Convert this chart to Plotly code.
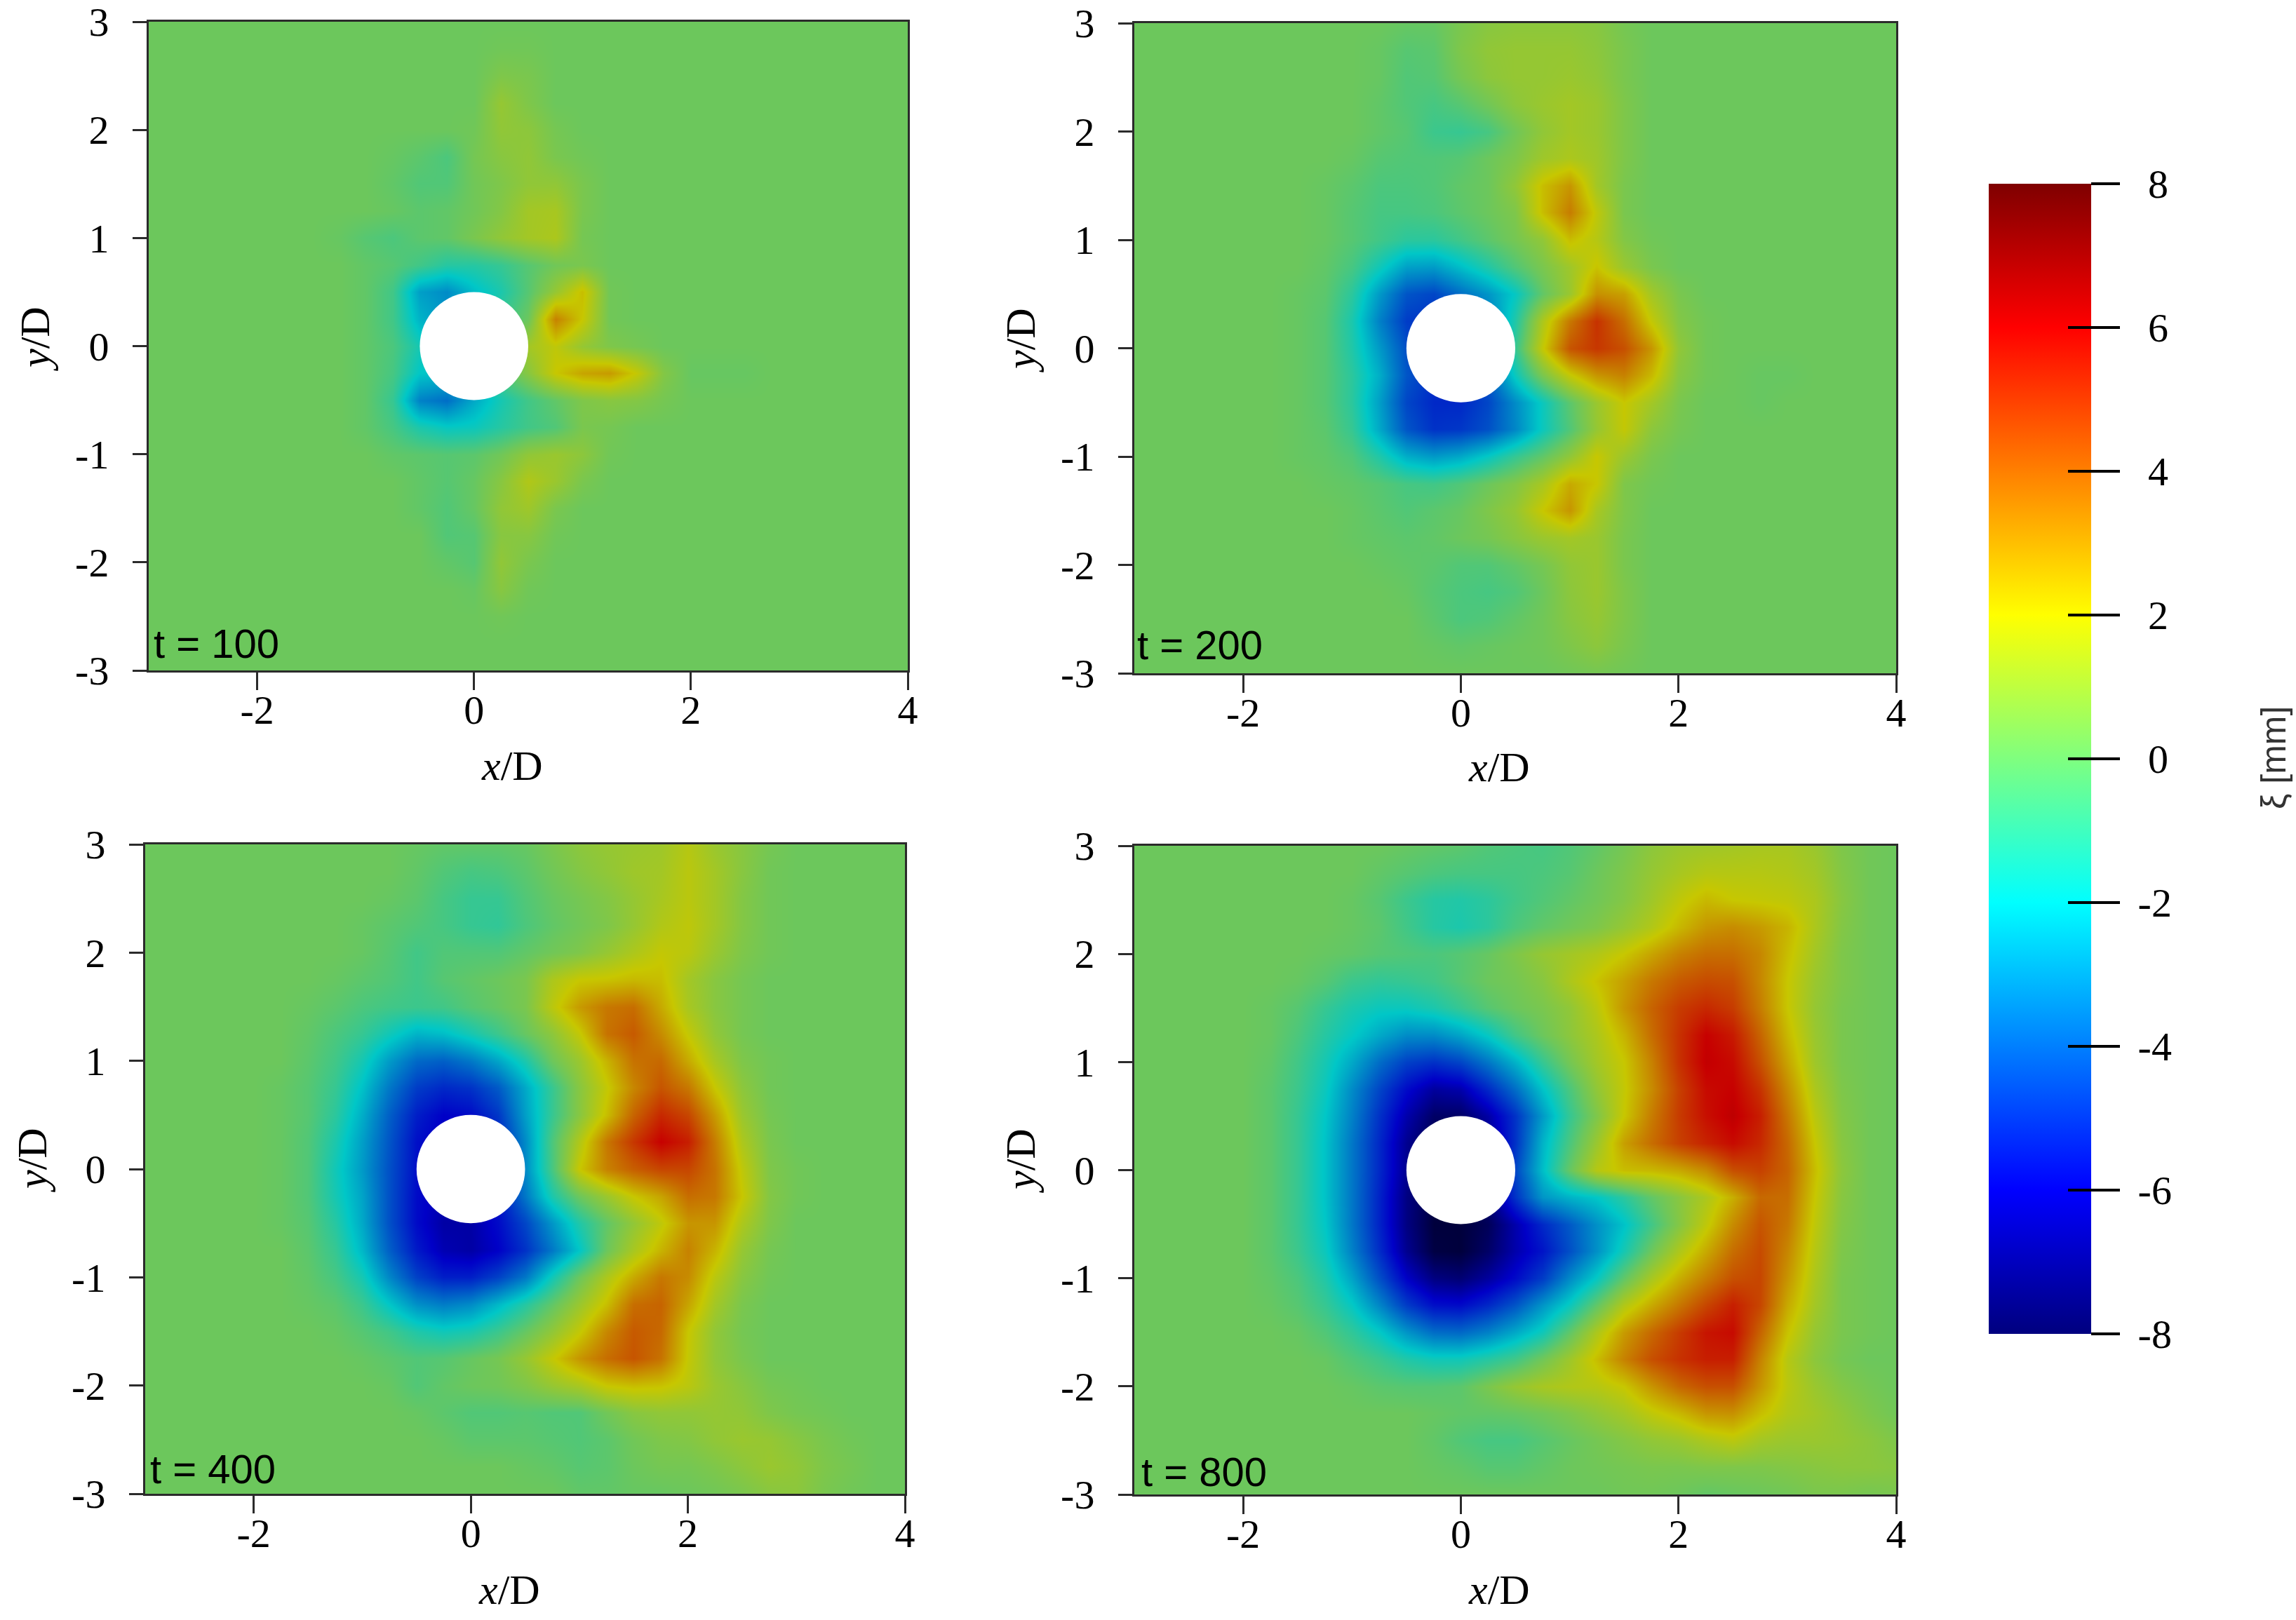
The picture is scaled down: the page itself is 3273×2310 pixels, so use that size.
import plotly.graph_objects as go

W, H = 3273, 2310

x_grid = [-3, -2.75, -2.5, -2.25, -2, -1.75, -1.5, -1.25, -1, -.75, -.5, -.25, 0, .25, .5, .75, 1,
          1.25, 1.5, 1.75, 2, 2.25, 2.5, 2.75, 3, 3.25, 3.5, 3.75, 4]
# rows run from y = 3 down to y = -3
y_grid = [3, 2.75, 2.5, 2.25, 2, 1.75, 1.5, 1.25, 1, .75, .5, .25, 0, -.25, -.5, -.75, -1,
          -1.25, -1.5, -1.75, -2, -2.25, -2.5, -2.75, -3]

z_t100 = [
    [0,0,0,0,0,0,0,0,0,0,0,0,0,0,0,0,0,0,0,0,0,0,0,0,0,0,0,0,0],
    [0,0,0,0,0,0,0,0,0,0,0,0,0,.1,.1,0,0,0,0,0,0,0,0,0,0,0,0,0,0],
    [0,0,0,0,0,0,0,0,0,0,0,0,0,.4,.3,0,0,0,0,0,0,0,0,0,0,0,0,0,0],
    [0,0,0,0,0,0,0,0,0,0,0,0,0,.9,.4,0,0,0,0,0,0,0,0,0,0,0,0,0,0],
    [0,0,0,0,0,0,0,0,0,0,0,0,.1,.8,.7,.2,0,0,0,0,0,0,0,0,0,0,0,0,0],
    [0,0,0,0,0,0,0,0,0,-.1,-.3,-.6,.2,.6,.8,.3,.1,0,0,0,0,0,0,0,0,0,0,0,0],
    [0,0,0,0,0,0,0,0,0,-.2,-.5,-.5,.1,.4,.8,.8,.3,0,0,0,0,0,0,0,0,0,0,0,0],
    [0,0,0,0,0,0,0,0,0,-.1,-.3,-.2,.1,.5,1.2,1.3,.3,0,0,0,0,0,0,0,0,0,0,0,0],
    [0,0,0,0,0,0,0,-.1,-.4,-.6,-.3,-.2,.3,.8,1.2,1.4,.2,0,0,0,0,0,0,0,0,0,0,0,0],
    [0,0,0,0,0,0,0,0,-.2,-.4,-.8,-1.3,-1.3,-1,-.4,.1,.3,0,0,0,0,0,0,0,0,0,0,0,0],
    [0,0,0,0,0,0,0,0,-.2,-.8,-2.8,-3.2,-2.2,-1.5,-.4,.9,2.2,.1,0,0,0,0,0,0,0,0,0,0,0],
    [0,0,0,0,0,0,0,0,-.2,-.8,-2.4,-3,-2,-1,0,3.4,2,.1,0,0,0,0,0,0,0,0,0,0,0],
    [0,0,0,0,0,0,0,0,-.2,-.6,-1.6,-1.8,-1,-.5,1.2,1.8,.9,.4,.2,0,0,0,0,0,0,0,0,0,0],
    [0,0,0,0,0,0,0,0,-.2,-.7,-2,-2.2,-1.4,-.5,.6,2,2.7,2.9,1.9,.5,-.1,-.1,-.1,0,0,0,0,0,0],
    [0,0,0,0,0,0,0,0,-.2,-1,-3.4,-3.8,-2.6,-1.6,-.8,-.2,.4,.6,.5,.2,0,0,0,0,0,0,0,0,0],
    [0,0,0,0,0,0,0,0,-.2,-.7,-1.5,-1.9,-1.8,-1.3,-.8,-.5,.3,.2,0,0,0,0,0,0,0,0,0,0,0],
    [0,0,0,0,0,0,0,0,0,-.2,-.3,-.4,-.3,.1,.8,1,.7,.1,0,0,0,0,0,0,0,0,0,0,0],
    [0,0,0,0,0,0,0,0,0,0,-.2,-.4,-.1,.6,1.5,1,.3,0,0,0,0,0,0,0,0,0,0,0,0],
    [0,0,0,0,0,0,0,0,0,0,-.2,-.5,-.1,.8,1.1,.3,0,0,0,0,0,0,0,0,0,0,0,0,0],
    [0,0,0,0,0,0,0,0,0,0,0,-.5,-.4,.6,.6,.1,0,0,0,0,0,0,0,0,0,0,0,0,0],
    [0,0,0,0,0,0,0,0,0,0,0,-.2,-.4,.8,.3,0,0,0,0,0,0,0,0,0,0,0,0,0,0],
    [0,0,0,0,0,0,0,0,0,0,0,0,-.1,.6,.1,0,0,0,0,0,0,0,0,0,0,0,0,0,0],
    [0,0,0,0,0,0,0,0,0,0,0,0,0,.1,0,0,0,0,0,0,0,0,0,0,0,0,0,0,0],
    [0,0,0,0,0,0,0,0,0,0,0,0,0,0,0,0,0,0,0,0,0,0,0,0,0,0,0,0,0],
    [0,0,0,0,0,0,0,0,0,0,0,0,0,0,0,0,0,0,0,0,0,0,0,0,0,0,0,0,0],
]

z_t200 = [
    [0,0,0,0,0,0,0,0,0,0,-.1,-.1,.3,.6,.7,.7,.7,.6,.2,0,0,0,0,0,0,0,0,0,0],
    [0,0,0,0,0,0,0,0,0,-.1,-.4,-.3,.4,.8,.9,.9,.9,.7,.3,0,0,0,0,0,0,0,0,0,0],
    [0,0,0,0,0,0,0,0,0,-.1,-.5,-.4,.2,.7,.9,.9,1,.8,.3,0,0,0,0,0,0,0,0,0,0],
    [0,0,0,0,0,0,0,0,0,-.2,-.5,-.7,-.4,.1,.7,1,1.2,1,.4,0,0,0,0,0,0,0,0,0,0],
    [0,0,0,0,0,0,0,0,0,-.2,-.4,-.9,-1,-.7,.1,.8,1.2,1,.4,0,0,0,0,0,0,0,0,0,0],
    [0,0,0,0,0,0,0,0,-.1,-.4,-.5,-.5,-.4,0,.4,1.1,1.4,1.1,.4,0,0,0,0,0,0,0,0,0,0],
    [0,0,0,0,0,0,0,-.1,-.3,-.6,-.6,-.5,-.2,0,.8,2.2,3,1.2,.3,0,0,0,0,0,0,0,0,0,0],
    [0,0,0,0,0,0,0,-.1,-.4,-.7,-.7,-.6,-.3,0,.4,2.2,3.5,1.8,.3,0,0,0,0,0,0,0,0,0,0],
    [0,0,0,0,0,0,0,-.1,-.4,-.8,-1.2,-1.2,-.8,-.3,.2,.8,2.2,1.6,.5,.1,0,0,0,0,0,0,0,0,0],
    [0,0,0,0,0,0,0,-.2,-.7,-1.7,-2.8,-2.9,-2.2,-1.4,-.5,.3,1.1,2.1,1,.3,0,0,0,0,0,0,0,0,0],
    [0,0,0,0,0,0,-.1,-.3,-1.2,-2.9,-4.3,-4.6,-3.8,-3,-1.9,-.2,1,3.1,2.8,1.2,.3,0,0,0,0,0,0,0,0],
    [0,0,0,0,0,0,-.1,-.4,-1.5,-3.4,-4.8,-5,-4.6,-3.6,-1.4,1.4,3.6,5,3.8,1.9,.5,.1,0,0,0,0,0,0,0],
    [0,0,0,0,0,0,-.1,-.4,-1.4,-2.9,-4.4,-5,-4.8,-3.8,-1,1.9,4.3,4.9,4.4,3,.8,.1,0,0,0,0,0,0,0],
    [0,0,0,0,0,0,-.1,-.4,-1.2,-2.5,-4.3,-5,-5,-4.2,-1.8,.3,1.9,3,3.4,2.3,.6,.1,0,-.1,-.1,0,0,0,0],
    [0,0,0,0,0,0,-.1,-.4,-1.2,-2.8,-4.6,-5.2,-5.2,-4.6,-3.2,-1.8,-.3,1,2,1.2,.3,0,0,-.1,0,0,0,0,0],
    [0,0,0,0,0,0,-.1,-.3,-1,-2.6,-4.3,-5,-4.9,-4.4,-3.3,-1.8,-.5,.9,1.9,.7,.2,0,0,0,0,0,0,0,0],
    [0,0,0,0,0,0,-.1,-.2,-.5,-1.4,-2.5,-2.9,-2.6,-1.9,-1,-.2,.8,2,1,.3,0,0,0,0,0,0,0,0,0],
    [0,0,0,0,0,0,0,-.1,-.2,-.4,-.7,-.8,-.5,0,.5,1.3,2.6,2,.4,.1,0,0,0,0,0,0,0,0,0],
    [0,0,0,0,0,0,0,0,-.1,-.3,-.5,-.3,-.1,.4,.9,2,3,1.3,.4,0,0,0,0,0,0,0,0,0,0],
    [0,0,0,0,0,0,0,0,-.1,-.2,-.3,-.2,0,.2,.6,1,1.2,1,.3,0,0,0,0,0,0,0,0,0,0],
    [0,0,0,0,0,0,0,0,0,-.1,-.2,-.3,-.5,-.5,-.2,.2,.8,1,.3,0,0,0,0,0,0,0,0,0,0],
    [0,0,0,0,0,0,0,0,0,0,-.1,-.4,-.6,-.7,-.5,0,.7,1,.4,0,0,0,0,0,0,0,0,0,0],
    [0,0,0,0,0,0,0,0,0,0,0,-.3,-.6,-.5,-.2,.1,.6,.9,.4,0,0,0,0,0,0,0,0,0,0],
    [0,0,0,0,0,0,0,0,0,0,0,-.1,-.2,-.1,0,.1,.4,.7,.3,0,0,0,0,0,0,0,0,0,0],
    [0,0,0,0,0,0,0,0,0,0,0,0,0,0,0,0,.1,.2,.1,0,0,0,0,0,0,0,0,0,0],
]

z_t400 = [
    [0,0,0,0,0,0,0,0,0,0,-.1,-.2,-.2,-.2,-.1,.3,.7,.9,1,1.1,1.6,1,.6,.2,0,0,0,0,0],
    [0,0,0,0,0,0,0,0,0,0,-.2,-.5,-.7,-.6,-.3,.1,.5,.8,1.1,1.2,1.7,1.2,.6,.1,0,0,0,0,0],
    [0,0,0,0,0,0,0,0,0,-.1,-.3,-.7,-1,-1,-.5,-.1,.2,.5,.9,1.3,1.7,1.2,.5,.1,0,0,0,0,0],
    [0,0,0,0,0,0,0,0,-.1,-.3,-.5,-.7,-1,-1.1,-.6,-.2,.1,.4,.9,1.5,1.8,1.2,.5,.1,0,0,0,0,0],
    [0,0,0,0,0,0,0,0,-.1,-.4,-.8,-.5,-.5,-.5,-.2,.1,.4,.9,1.4,1.9,1.7,1,.4,.1,0,0,0,0,0],
    [0,0,0,0,0,0,0,-.1,-.3,-.5,-.8,-.4,-.2,0,.3,1.4,2,2.1,2.3,2.2,1.2,.6,.2,0,0,0,0,0,0],
    [0,0,0,0,0,0,-.1,-.3,-.6,-.8,-.9,-.8,-.4,-.1,.3,1.7,2.9,3.6,3.8,2.6,1.3,.6,.2,0,0,0,0,0,0],
    [0,0,0,0,0,0,-.2,-.6,-1,-1.7,-2.4,-2.2,-1.6,-.9,-.1,.7,1.9,3.7,4.2,3.2,1.9,.8,.2,0,0,0,0,0,0],
    [0,0,0,0,0,0,-.3,-.8,-1.6,-2.9,-3.9,-4.1,-3.6,-2.7,-1.5,0,1,2.4,3.7,3.9,2.6,1.3,.4,.1,0,0,0,0,0],
    [0,0,0,0,0,-.1,-.4,-1,-2.1,-3.6,-4.8,-5.2,-5,-4.2,-2.6,-1,.6,1.9,3.3,4.3,3.6,2,.7,.1,0,0,0,0,0],
    [0,0,0,0,0,-.1,-.4,-1.2,-2.5,-4.1,-5.4,-6,-5.8,-4.9,-2.8,-1,.6,2.2,4,5.2,4.6,2.9,1,.2,0,0,0,0,0],
    [0,0,0,0,0,-.1,-.5,-1.5,-2.8,-4.3,-5.7,-6.2,-6.2,-5.4,-3.2,-.6,1.5,3.6,4.9,6,5.4,3.5,1.4,.3,0,0,0,0,0],
    [0,0,0,0,0,-.1,-.5,-1.7,-2.9,-4.4,-5.7,-6.3,-6.2,-5.4,-3.2,-.7,2,3.4,4.1,4.6,4.6,3.7,1.8,.4,.1,0,0,0,0],
    [0,0,0,0,0,-.1,-.5,-1.6,-2.7,-4.4,-5.8,-6.3,-6.3,-5.6,-3.6,-1.5,0,1,2,2.7,3.8,3.6,2,.5,.1,0,0,0,0],
    [0,0,0,0,0,-.1,-.4,-1.3,-2.6,-4.4,-5.8,-6.5,-6.5,-5.8,-4.6,-3,-1.4,-.2,.8,1.8,3,3,1.4,.4,0,0,0,0,0],
    [0,0,0,0,0,0,-.3,-1,-2.3,-4.1,-5.5,-6.3,-6.5,-6,-5,-3.6,-2,0,1.3,2.4,3.4,2.4,.9,.2,0,0,0,0,0],
    [0,0,0,0,0,0,-.2,-.7,-1.6,-3.3,-4.7,-5.4,-5.4,-4.7,-3.6,-1.7,0,1.4,2.6,3.6,3.2,1.7,.6,.1,0,0,0,0,0],
    [0,0,0,0,0,0,-.1,-.3,-.9,-2,-3.1,-3.5,-3.2,-2.3,-1.3,-.2,1,2.2,3.8,4,2.7,1.2,.3,0,0,0,0,0,0],
    [0,0,0,0,0,0,0,-.1,-.4,-.8,-1.4,-1.7,-1.5,-.9,-.1,.8,1.9,3.3,4.2,3.9,2,.8,.2,0,0,0,0,0,0],
    [0,0,0,0,0,0,0,0,-.1,-.3,-.5,-.4,-.1,.2,.9,1.9,3,3.8,4.3,3.7,1.9,.8,.3,0,0,0,0,0,0],
    [0,0,0,0,0,0,0,0,0,-.1,-.5,-.2,0,.1,.4,.9,1.3,2,2.2,2.1,1.7,1,.6,.2,.1,0,0,0,0],
    [0,0,0,0,0,0,0,0,0,0,-.1,-.3,-.5,-.5,-.4,-.5,-.5,.1,.6,.8,.8,.9,.8,.4,.2,.1,0,0,0],
    [0,0,0,0,0,0,0,0,0,0,0,-.1,-.3,-.3,-.3,-.4,-.5,-.3,.1,.4,.5,.8,1,.9,.6,.3,.1,0,0],
    [0,0,0,0,0,0,0,0,0,0,0,0,0,0,-.1,-.2,-.4,-.3,0,.2,.2,.4,.7,1,.8,.4,.2,0,0],
    [0,0,0,0,0,0,0,0,0,0,0,0,0,0,0,0,-.2,-.2,-.1,-.1,0,.1,.3,.6,.7,.3,.1,0,0],
]

z_t800 = [
    [0,0,0,0,0,0,0,0,0,0,-.1,-.2,-.3,-.5,-.6,-.7,-.5,-.2,.2,.7,1,1.1,1.2,1.3,1.3,1,.4,.1,0],
    [0,0,0,0,0,0,0,0,0,-.2,-.4,-.6,-.7,-.7,-.7,-.6,-.4,0,.4,.9,1.3,1.6,1.6,1.6,1.5,1.2,.5,.1,0],
    [0,0,0,0,0,0,0,0,-.1,-.4,-.9,-1.3,-1.4,-1.2,-.8,-.5,-.2,.1,.5,1.1,1.8,2.3,2,1.9,1.8,1.4,.6,.1,0],
    [0,0,0,0,0,0,0,0,-.1,-.3,-.8,-1.3,-1.5,-1.2,-.6,-.2,.1,.4,.9,1.5,2.3,3,3.2,2.9,2.4,1.4,.5,.1,0],
    [0,0,0,0,0,0,0,-.1,-.2,-.4,-.5,-.6,-.4,-.1,.4,.9,1.2,1.5,2,2.7,3.4,3.8,3.8,3.3,2.2,1.2,.4,.1,0],
    [0,0,0,0,0,0,-.1,-.4,-.9,-1.1,-1,-.8,-.4,0,.2,.6,1.4,2.1,2.8,3.6,4.2,4.5,4.4,3.3,2,1,.4,.1,0],
    [0,0,0,0,0,-.1,-.4,-1,-1.5,-1.8,-1.8,-1.5,-1,-.4,0,.3,.8,1.7,3,4,4.8,5.2,4.8,3.5,2,.9,.3,.1,0],
    [0,0,0,0,0,-.1,-.6,-1.3,-1.9,-2.6,-3.2,-3.2,-2.7,-1.9,-.8,0,.7,1.4,2.4,3.8,5,6,5.5,4,2.3,1,.3,.1,0],
    [0,0,0,0,0,-.2,-.8,-1.6,-2.6,-3.8,-4.7,-5,-4.6,-3.6,-2.4,-1,.2,1.2,2,3.4,5,6.1,5.8,4.4,2.7,1.1,.3,.1,0],
    [0,0,0,0,0,-.3,-.9,-1.8,-3.2,-4.6,-5.8,-6.6,-6.4,-5.2,-3.8,-2.1,-.6,.8,1.9,3.2,4.7,5.8,6,5,3.2,1.4,.4,.1,0],
    [0,0,0,0,0,-.3,-1,-2,-3.4,-5,-6.4,-7.4,-7.4,-6.5,-5,-2.9,-1,.4,2,3.5,4.8,5.7,6.2,5.4,3.6,1.7,.5,.1,0],
    [0,0,0,0,0,-.3,-1,-2.1,-3.6,-5.2,-6.8,-7.8,-7.8,-7,-5,-2.4,-.6,1,2.8,3.8,4.7,5.3,5.8,5.2,3.9,2,.6,.1,0],
    [0,0,0,0,0,-.3,-1,-2.1,-3.6,-5.2,-6.8,-7.8,-7.8,-7,-4.6,-2.2,-.1,1.6,2.2,2.3,2.6,3.2,4.4,4.7,4,2.2,.7,.1,0],
    [0,0,0,0,0,-.3,-1,-2.1,-3.6,-5.3,-7,-7.9,-7.9,-7.2,-5,-3,-2.4,-2,-1.2,-.2,.6,1.4,2.5,3.9,3.8,2,.6,.1,0],
    [0,0,0,0,0,-.3,-1,-2,-3.6,-5.3,-7,-8,-8,-7.6,-6.4,-5.2,-4.2,-3.1,-2.1,-.8,.5,1.8,3.2,4.3,3.6,1.8,.5,.1,0],
    [0,0,0,0,0,-.3,-.9,-1.8,-3.4,-5.1,-6.8,-7.9,-8,-7.4,-6.4,-5.6,-4.4,-3.1,-1.6,0,1.4,2.6,3.8,4.5,3.3,1.6,.4,.1,0],
    [0,0,0,0,0,-.2,-.6,-1.4,-2.7,-4.4,-6,-7,-7.2,-6.6,-5.8,-4.8,-3.2,-1.9,-.2,1.3,2.5,3.5,4.4,4.6,3,1.4,.3,.1,0],
    [0,0,0,0,0,-.1,-.4,-1,-1.9,-3.3,-4.8,-5.7,-5.8,-5.2,-4.3,-3,-1.8,-.2,1.5,2.6,3.6,4.6,5.4,4.6,2.6,1.2,.3,.1,0],
    [0,0,0,0,0,0,-.1,-.5,-1.1,-1.9,-3,-3.8,-3.9,-3.4,-2.6,-1.7,-.2,1.4,2.9,3.9,4.8,5.6,5.8,4,2.1,.9,.3,.1,0],
    [0,0,0,0,0,0,0,-.1,-.5,-.9,-1.4,-1.7,-1.7,-1.3,-.8,.1,1.1,2.2,3.4,4.4,5,5.4,5.4,3.4,1.6,.7,.2,0,0],
    [0,0,0,0,0,0,0,0,-.1,-.3,-.4,-.4,-.3,.3,.9,1.3,1.5,1.6,2,3,3.9,4.4,4.4,3,1.7,1,.5,.2,0],
    [0,0,0,0,0,0,0,0,0,0,0,-.1,-.2,-.2,-.1,.1,.4,.8,1.2,1.8,2.3,3,3.1,2.2,1.5,1.2,.8,.4,.1],
    [0,0,0,0,0,0,0,0,0,0,0,-.2,-.5,-.7,-.7,-.4,-.1,.2,.5,.8,1,1.4,1.7,1.2,1,1,.9,.7,.4],
    [0,0,0,0,0,0,0,0,0,0,0,-.1,-.2,-.4,-.4,-.2,0,.1,.2,.3,.3,.4,.4,.4,.5,.6,.7,.7,.6],
    [0,0,0,0,0,0,0,0,0,0,0,0,0,0,0,0,0,0,.1,.1,0,-.2,-.1,0,.1,.3,.3,.2,.3],
]

x_ticks = [-2, 0, 2, 4]
x_labels = ["-2", "0", "2", "4"]
y_ticks = [-3, -2, -1, 0, 1, 2, 3]
y_labels = ["-3", "-2", "-1", "0", "1", "2", "3"]
cbar_ticks = [-8, -6, -4, -2, 0, 2, 4, 6, 8]
cbar_labels = ["\u2005-8", "\u2005-6", "\u2005-4", "\u2005-2", "\u2005\u20050",
               "\u2005\u20052", "\u2005\u20054", "\u2005\u20056", "\u2005\u20058"]

# the field is lit in the original, so it is duller than its colour bar
field_scale = [[0, "rgb(0,0,60)"], [.125, "rgb(0,0,199)"], [.375, "rgb(0,199,199)"], [.5, "rgb(108,199,92)"],
               [.625, "rgb(199,199,0)"], [.875, "rgb(199,0,0)"], [1, "rgb(100,0,0)"]]
bar_scale = [[0, "rgb(0,0,127)"], [.125, "rgb(0,0,255)"], [.375, "rgb(0,255,255)"], [.5, "rgb(127,255,127)"],
             [.625, "rgb(255,255,0)"], [.875, "rgb(255,0,0)"], [1, "rgb(127,0,0)"]]

serif = "Liberation Serif"
sans = "Liberation Sans"

# name, z, plot box in pixels (left, top, right, bottom), x/D centre, y/D centre, label position
panels = [
    ("t = 100", z_t100, (212, 31, 1294, 956), (730, 1092), (50, 484), (217, 917)),
    ("t = 200", z_t200, (1617, 33, 2703, 960), (2137, 1094), (1455, 486), (1619, 919)),
    ("t = 400", z_t400, (207, 1204, 1290, 2130), (726, 2267), (46, 1655), (212, 2094)),
    ("t = 800", z_t800, (1617, 1206, 2703, 2131), (2137, 2267), (1455, 1656), (1625, 2098)),
]


def fx(px):
    return px / W


def fy(px):
    return 1 - px / H


fig = go.Figure()

# two colour bars on top of each other: one for the outer ticks and labels, one for the ticks inside the bar
for ticks, ticklen, labels in [("outside", 41, True), ("inside", 33, False)]:
    fig.add_trace(go.Heatmap(
        z=[cbar_ticks], x=x_ticks + [5, 6, 7, 8, 9], y=[0], zmin=-8, zmax=8, colorscale=bar_scale, hoverinfo="skip",
        colorbar=dict(
            thickness=146, thicknessmode="pixels", len=1640, lenmode="pixels",
            x=fx(2835), xanchor="left", xpad=0, y=fy(262), yanchor="top", ypad=0,
            outlinewidth=0, ticks=ticks, ticklen=ticklen, tickwidth=4, tickcolor="black",
            tickvals=cbar_ticks, ticktext=cbar_labels, showticklabels=labels,
            tickfont=dict(family=serif, size=58, color="black"),
        ),
    ))

layout = dict(
    width=W, height=H, margin=dict(l=0, r=0, t=0, b=0, autoexpand=False), autosize=False,
    paper_bgcolor="white", plot_bgcolor="white", showlegend=False,
    shapes=[], annotations=[],
)

for i, (name, z, box, xlab, ylab, tlab) in enumerate(panels, start=1):
    left, top, right, bottom = box
    fig.add_trace(go.Heatmap(
        z=z[::-1], x=x_grid, y=y_grid[::-1], zmin=-8, zmax=8, colorscale=field_scale,
        zsmooth="best", showscale=False, xaxis=f"x{i}", yaxis=f"y{i}",
    ))
    axis_style = dict(showgrid=False, zeroline=False, showline=True, mirror=True, linecolor="#2b2b2b", linewidth=3,
                      ticks="outside", tickwidth=3, tickcolor="#2b2b2b", ticklabeloverflow="allow",
                      tickfont=dict(family=serif, size=58, color="black"))
    layout[f"xaxis{i}"] = dict(domain=[fx(left), fx(right)], range=[-3, 4], anchor=f"y{i}", tickvals=x_ticks,
                               ticktext=x_labels, ticklen=25, ticklabelstandoff=-22, **axis_style)
    layout[f"yaxis{i}"] = dict(domain=[fy(bottom), fy(top)], range=[-3, 3], anchor=f"x{i}", tickvals=y_ticks,
                               ticktext=y_labels, ticklen=20, ticklabelstandoff=22, **axis_style)
    layout["shapes"].append(dict(type="circle", xref=f"x{i}", yref=f"y{i}", x0=-.5, x1=.5, y0=-.5, y1=.5,
                                 fillcolor="white", line=dict(width=0), layer="above"))
    layout["annotations"] += [
        dict(text="<i>x</i>/D", xref="paper", yref="paper", x=fx(xlab[0]), y=fy(xlab[1]), showarrow=False,
             xanchor="center", yanchor="middle", font=dict(family=serif, size=60, color="black")),
        dict(text="<i>y</i>/D", xref="paper", yref="paper", x=fx(ylab[0]), y=fy(ylab[1]), showarrow=False,
             textangle=-90, xanchor="center", yanchor="middle", font=dict(family=serif, size=60, color="black")),
        dict(text=name, xref="paper", yref="paper", x=fx(tlab[0]), y=fy(tlab[1]), showarrow=False,
             xanchor="left", yanchor="middle", font=dict(family=sans, size=58, color="black")),
    ]

layout["annotations"].append(dict(text="ξ [mm]", xref="paper", yref="paper", x=fx(3241), y=fy(1081), showarrow=False,
                                  textangle=-90, xanchor="center", yanchor="middle",
                                  font=dict(family=sans, size=50, color="#333333")))

fig.update_layout(**layout)
fig.write_html("out.html", config=dict(displayModeBar=False), post_script="document.body.style.margin='0';")
